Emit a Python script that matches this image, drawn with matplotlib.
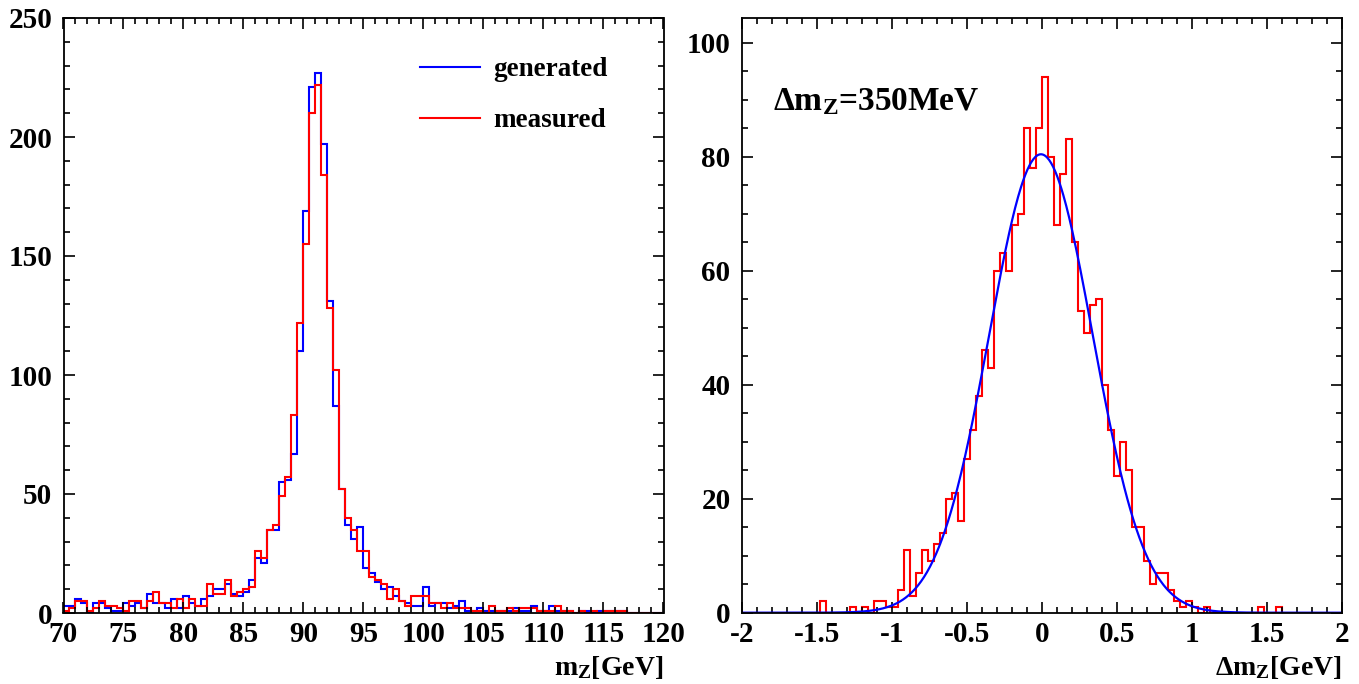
import numpy as np
import matplotlib
matplotlib.use('Agg')
import matplotlib.pyplot as plt
from matplotlib.ticker import MultipleLocator, FuncFormatter

# left panel: Z mass, 100 bins of 0.5 GeV between 70 and 120
mz_edges = np.linspace(70, 120, 101)
generated = [3, 3, 6, 4, 0, 4, 4, 2, 1, 1,
             4, 3, 4, 2, 8, 4, 4, 2, 6, 2,
             7, 4, 3, 6, 7, 10, 10, 12, 8, 7,
             9, 14, 23, 21, 35, 35, 55, 56, 67, 110,
             169, 221, 227, 197, 131, 87, 52, 37, 31, 36,
             19, 17, 13, 10, 11, 7, 5, 4, 3, 3,
             11, 3, 4, 4, 2, 3, 5, 1, 1, 2,
             1, 1, 1, 1, 1, 2, 1, 1, 3, 1,
             1, 3, 1, 1, 1, 0, 1, 1, 0, 1,
             1, 1, 1, 1, 0, 0, 0, 0, 0, 0]
measured = [1, 2, 5, 5, 1, 2, 5, 3, 3, 2,
            1, 5, 5, 2, 5, 9, 4, 4, 2, 6,
            2, 6, 3, 3, 12, 8, 8, 14, 7, 9,
            10, 11, 26, 23, 35, 37, 49, 57, 83, 122,
            155, 210, 222, 184, 128, 102, 52, 40, 35, 26,
            26, 15, 14, 12, 6, 10, 5, 3, 7, 7,
            7, 4, 4, 2, 4, 2, 2, 2, 1, 1,
            0, 3, 1, 1, 2, 1, 2, 2, 2, 1,
            1, 1, 3, 1, 1, 0, 1, 0, 1, 0,
            1, 1, 1, 1, 0, 0, 0, 0, 0, 0]

# right panel: mass difference, 100 bins of 0.04 GeV between -2 and 2
dm_edges = np.linspace(-2, 2, 101)
dm_counts = [0, 0, 0, 0, 0, 0, 0, 0, 0, 0,
             0, 0, 0, 2, 0, 0, 0, 0, 1, 0,
             1, 0, 2, 2, 1, 1, 4, 11, 3, 7,
             11, 9, 12, 14, 20, 21, 16, 27, 32, 38,
             46, 43, 60, 63, 60, 68, 70, 85, 78, 85,
             94, 80, 68, 77, 83, 65, 53, 49, 54, 55,
             40, 32, 24, 30, 25, 15, 15, 9, 5, 7,
             7, 4, 2, 1, 2, 1, 0, 1, 0, 0,
             0, 0, 0, 0, 0, 0, 1, 0, 0, 1,
             0, 0, 0, 0, 0, 0, 0, 0, 0, 0]
fit_amp = 80.4
fit_mean = -0.005
fit_sigma = 0.345

plt.rcParams['font.family'] = ['Liberation Serif', 'DejaVu Serif']
plt.rcParams['font.weight'] = 'bold'
plt.rcParams['mathtext.fontset'] = 'custom'
plt.rcParams['mathtext.rm'] = 'Liberation Serif:bold'
plt.rcParams['mathtext.bf'] = 'Liberation Serif:bold'
plt.rcParams['mathtext.it'] = 'Liberation Serif:bold:italic'
plt.rcParams['axes.unicode_minus'] = False

W, H = 1359, 684
fig = plt.figure(figsize=(W / 100, H / 100), dpi=100)
ax1 = fig.add_axes([63.5 / W, (H - 613) / H, 600 / W, 595 / H])
ax2 = fig.add_axes([741.7 / W, (H - 612.7) / H, 600 / W, 594.7 / H])


def root_style(ax):
    ax.tick_params(which='both', direction='in', top=True, right=True,
                   width=1.2, labelsize=21)
    ax.tick_params(which='major', length=8)
    ax.tick_params(which='minor', length=4)
    ax.tick_params(axis='x', pad=6)
    ax.tick_params(axis='y', pad=8)
    for s in ax.spines.values():
        s.set_linewidth(1.3)
    ax.xaxis.set_major_formatter(FuncFormatter(lambda v, p: '%g' % v))
    ax.yaxis.set_major_formatter(FuncFormatter(lambda v, p: '%g' % v))
    for lab in ax.get_xticklabels() + ax.get_yticklabels():
        lab.set_fontweight('bold')


# left: generated vs measured Z mass
ax1.stairs(generated, mz_edges, color='#0000ff', lw=1.5, baseline=0)
ax1.stairs(measured, mz_edges, color='#ff0000', lw=1.5, baseline=0)
ax1.set_xlim(70, 120)
ax1.set_ylim(0, 250)
ax1.xaxis.set_major_locator(MultipleLocator(5))
ax1.xaxis.set_minor_locator(MultipleLocator(1))
ax1.yaxis.set_major_locator(MultipleLocator(50))
ax1.yaxis.set_minor_locator(MultipleLocator(10))
root_style(ax1)
ax1.set_xlabel('m$_{\\rm Z}$[GeV]', loc='right', fontsize=20, fontweight='bold', labelpad=4)

h1, = ax1.plot([], [], color='#0000ff', lw=1.5)
h2, = ax1.plot([], [], color='#ff0000', lw=1.5)
ax1.legend([h1, h2], ['generated', 'measured'], loc='upper right',
           bbox_to_anchor=(0.925, 0.952), frameon=False,
           handlelength=2.2, handletextpad=0.5, labelspacing=0.95, borderaxespad=0,
           prop={'weight': 'bold', 'size': 19.5})

# right: mass difference with gaussian fit
ax2.stairs(dm_counts, dm_edges, color='#ff0000', lw=1.5, baseline=0)
xs = np.linspace(-2, 2, 600)
ax2.plot(xs, fit_amp * np.exp(-0.5 * ((xs - fit_mean) / fit_sigma) ** 2), color='#0000ff', lw=1.6)
ax2.set_xlim(-2, 2)
ax2.set_ylim(0, 104.3)
ax2.xaxis.set_major_locator(MultipleLocator(0.5))
ax2.xaxis.set_minor_locator(MultipleLocator(0.1))
ax2.yaxis.set_major_locator(MultipleLocator(20))
ax2.yaxis.set_minor_locator(MultipleLocator(5))
root_style(ax2)
ax2.set_xlabel('Δm$_{\\rm Z}$[GeV]', loc='right', fontsize=20, fontweight='bold', labelpad=4)
ax2.text(0.052, 0.845, 'Δm$_{\\rm Z}$=350MeV', transform=ax2.transAxes,
         fontsize=24, fontweight='bold', va='baseline', ha='left')

fig.savefig('out.png', dpi=100)
